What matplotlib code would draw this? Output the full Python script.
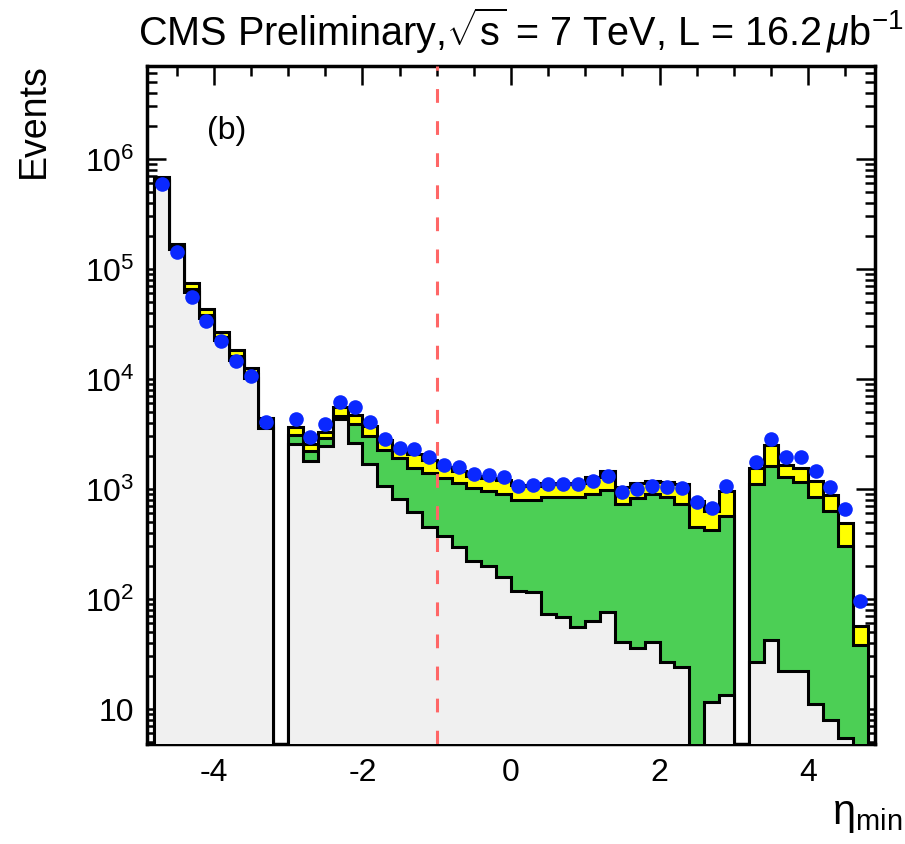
import numpy as np
import matplotlib
matplotlib.use("Agg")
import matplotlib.pyplot as plt
from matplotlib.ticker import FixedLocator, MultipleLocator, LogLocator, NullFormatter

plt.rcParams['font.family'] = ['Liberation Sans', 'DejaVu Sans']
plt.rcParams['mathtext.fontset'] = 'custom'
plt.rcParams['mathtext.rm'] = 'Liberation Sans'
plt.rcParams['mathtext.it'] = 'Liberation Sans:italic'
plt.rcParams['mathtext.bf'] = 'Liberation Sans:bold'

# ---- data (48 bins of width 0.2 from -4.8 to 4.8) ----
bin_edges = np.round(np.arange(-4.8, 4.8001, 0.2), 2)

data_counts = [5.9e5, 1.43e5, 5.6e4, 3.4e4, 2.2e4, 1.46e4, 1.06e4, 4.1e3,
               0, 4.3e3, 2.97e3, 3.9e3, 6.2e3, 5.6e3, 4.1e3, 2.85e3,
               2.36e3, 2.3e3, 1.95e3, 1.65e3, 1.58e3, 1.37e3, 1.33e3, 1.29e3,
               1.07e3, 1.08e3, 1.12e3, 1.1e3, 1.12e3, 1.18e3, 1.31e3, 940,
               1.0e3, 1.07e3, 1.05e3, 1.03e3, 760, 670, 1.07e3, 0,
               1.76e3, 2.85e3, 1.95e3, 1.95e3, 1.46e3, 1.04e3, 660, 96]

mc_grey = [630000, 152000, 62000, 35500, 22500, 15000, 10200, 3600,
           0, 2570, 1800, 2460, 4300, 2600, 1700, 1070,
           811, 614, 449, 377, 295, 223, 201, 157,
           119, 115, 73, 68, 56, 63, 76, 41,
           36, 41, 27, 24, 0, 11.6, 13.5, 0,
           27, 42, 22, 22, 11, 8, 5.5, 0]

mc_green = [20000, 6000, 4000, 2500, 1500, 1200, 800, 300,
            0, 500, 420, 420, 350, 1300, 1350, 1200,
            1100, 950, 960, 880, 840, 790, 760, 740,
            680, 680, 770, 770, 790, 840, 900, 690,
            800, 850, 810, 700, 450, 410, 560, 0,
            1073, 1578, 1268, 1138, 834, 622, 294.5, 38]

mc_yellow = [30000, 10000, 9000, 5000, 3000, 2300, 1500, 500,
             0, 600, 330, 420, 900, 850, 700, 500,
             420, 520, 420, 320, 310, 300, 300, 300,
             280, 280, 280, 280, 290, 370, 490, 320,
             300, 300, 330, 390, 320, 215, 380, 0,
             450, 880, 360, 390, 330, 250, 190, 19]

x_ticks = [-4, -2, 0, 2, 4]
y_ticks = [10, 1e2, 1e3, 1e4, 1e5, 1e6]
y_ticklabels = ['10', r'$10^{2}$', r'$10^{3}$', r'$10^{4}$', r'$10^{5}$', r'$10^{6}$']
cut_value = -1.0

# ---- figure ----
fig = plt.figure(figsize=(9.05, 8.45), dpi=100)
ax = fig.add_axes([0.1624, 0.1183, 0.8045, 0.8024])
ax.set_yscale('log')

grey = np.array(mc_grey, float)
green = np.array(mc_green, float)
yellow = np.array(mc_yellow, float)
lvl_grey = grey
lvl_green = grey + green
lvl_total = grey + green + yellow
base = 1e-2

def pos(a):
    return np.where(a > 0, a, base)

lw = 2.2
ax.stairs(pos(lvl_total), bin_edges, fill=True, baseline=base,
          facecolor='#ffff00', edgecolor='black', linewidth=lw, zorder=2)
ax.stairs(pos(lvl_green), bin_edges, fill=True, baseline=base,
          facecolor='#4ccf55', edgecolor='black', linewidth=lw, zorder=3)
ax.stairs(pos(lvl_grey), bin_edges, fill=True, baseline=base,
          facecolor='#f0f0f0', edgecolor='black', linewidth=lw, zorder=4)

ax.axvline(cut_value, color='#ff6666', linewidth=2.2, dashes=(4.5, 6.0), zorder=5)

centers = 0.5 * (bin_edges[:-1] + bin_edges[1:])
d = np.array(data_counts, float)
m = d > 0
ax.plot(centers[m], d[m], 'o', color='#0a28ff', markersize=10.5,
        markeredgewidth=0, zorder=6)

ax.set_xlim(-4.9, 4.9)
ax.set_ylim(4.8, 7e6)

ax.xaxis.set_major_locator(FixedLocator(x_ticks))
ax.xaxis.set_minor_locator(MultipleLocator(0.5))
ax.yaxis.set_major_locator(FixedLocator(y_ticks))
ax.yaxis.set_minor_locator(LogLocator(base=10, subs=np.arange(2, 10)))
ax.yaxis.set_minor_formatter(NullFormatter())
ax.set_yticklabels(y_ticklabels)
ax.set_xticklabels([str(t) for t in x_ticks])

ax.tick_params(which='both', direction='in', top=True, right=True,
               labelsize=23, width=1.8, color='black')
ax.tick_params(which='major', length=14, pad=9)
ax.tick_params(which='minor', length=7)
for s in ax.spines.values():
    s.set_linewidth(2.5)

fig.text(0.575, 0.963, r'CMS Preliminary,$\sqrt{\mathrm{s}}$ = 7 TeV, L = 16.2$\,\mu$b$^{-1}$',
         ha='center', va='center', fontsize=28.5)
fig.text(0.037, 0.925, 'Events', rotation=90, ha='center', va='top', fontsize=27)
fig.text(0.997, 0.035, r'$\mathrm{\eta_{min}}$', ha='right', va='center', fontsize=30)
ax.text(0.082, 0.905, '(b)', transform=ax.transAxes, ha='left', va='center', fontsize=23)

fig.savefig('out.png', dpi=100)
